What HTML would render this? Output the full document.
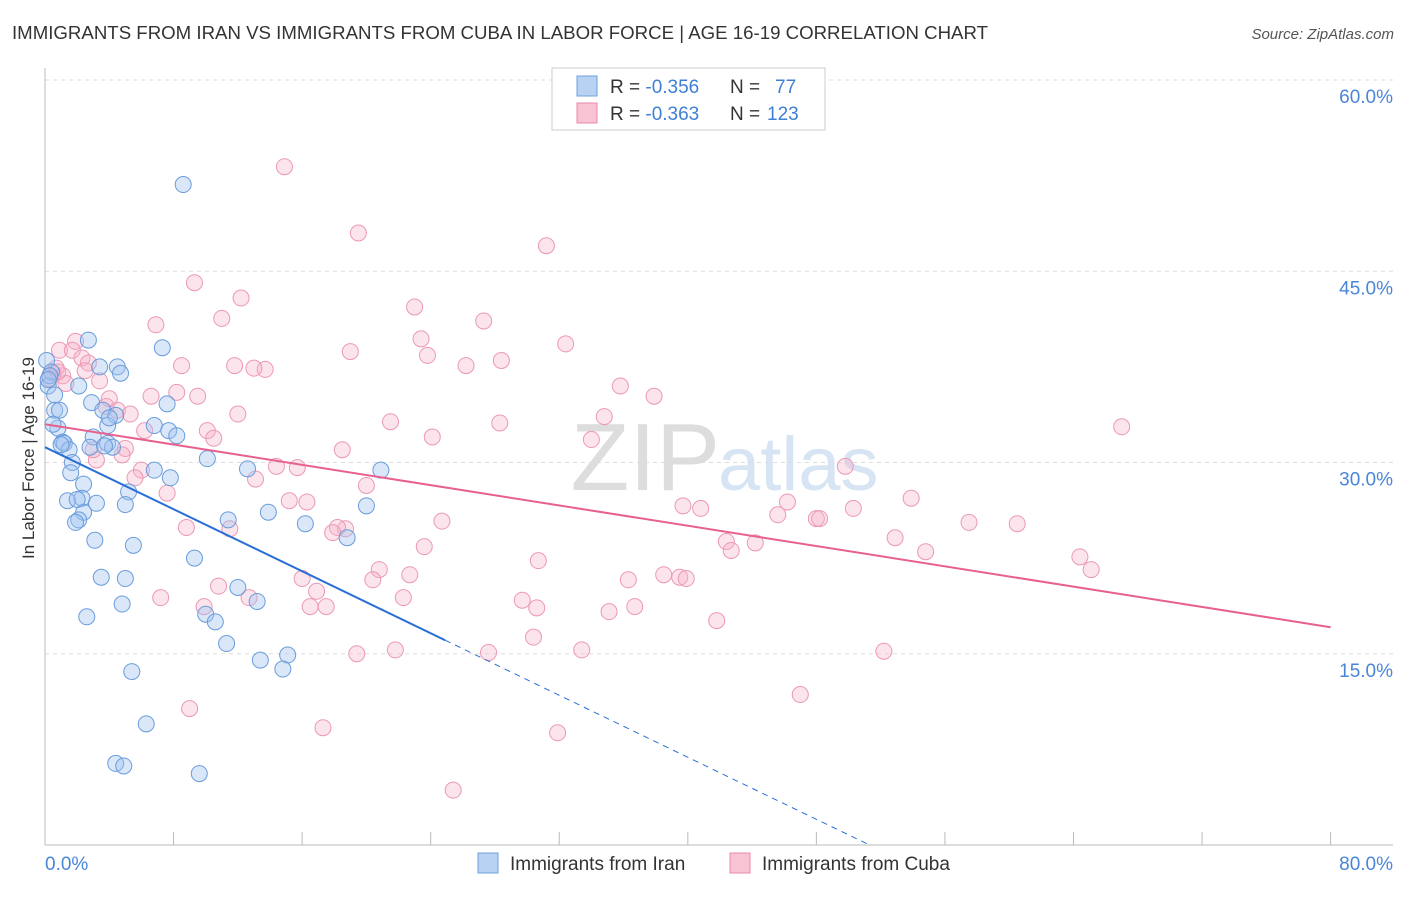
<!DOCTYPE html>
<html><head><meta charset="utf-8"><style>
body{margin:0;background:#fff;font-family:"Liberation Sans",sans-serif}
svg text{font-family:"Liberation Sans",sans-serif}
</style></head><body>
<svg id="chart" width="1406" height="892" xmlns="http://www.w3.org/2000/svg">
<text x="12" y="39" font-size="18.5" fill="#333" textLength="976" lengthAdjust="spacingAndGlyphs">IMMIGRANTS FROM IRAN VS IMMIGRANTS FROM CUBA IN LABOR FORCE | AGE 16-19 CORRELATION CHART</text>
<text x="1394" y="39" font-size="15" fill="#555" text-anchor="end" font-style="italic">Source: ZipAtlas.com</text>
<text x="720" y="490" font-size="96" fill="#ddd" text-anchor="end" font-family="Liberation Serif">ZIP</text>
<text x="718" y="490" font-size="76" fill="#d6e4f3">atlas</text>
<g id="grid"></g><g id="axes"></g><g id="pts"></g><g id="lines"></g>
<text transform="translate(34,458) rotate(-90)" font-size="17" fill="#333" text-anchor="middle">In Labor Force | Age 16-19</text>
<g>
<rect x="552" y="68" width="273" height="62" fill="#fff" stroke="#ccc"/>
<rect x="577" y="76" width="20" height="20" fill="#b7d2f3" stroke="#6fa0dc"/>
<rect x="577" y="103" width="20" height="20" fill="#f8c3d3" stroke="#e889a8"/>
<text x="610" y="93" font-size="19" fill="#333">R = <tspan fill="#3f7fd6">-0.356</tspan><tspan x="730">N =</tspan><tspan x="775" fill="#3f7fd6">77</tspan></text>
<text x="610" y="120" font-size="19" fill="#333">R = <tspan fill="#3f7fd6">-0.363</tspan><tspan x="730">N =</tspan><tspan x="767" fill="#3f7fd6">123</tspan></text>
</g>
<g>
<rect x="478" y="853" width="20" height="20" fill="#b7d2f3" stroke="#6fa0dc"/>
<text x="510" y="870" font-size="19" fill="#333">Immigrants from Iran</text>
<rect x="730" y="853" width="20" height="20" fill="#f8c3d3" stroke="#e889a8"/>
<text x="762" y="870" font-size="19" fill="#333">Immigrants from Cuba</text>
</g>
</svg>
<script>
const yTicks=[15,30,45,60];
const xTickLabels=["0.0%","80.0%"];
const iranX=[8.6,2.7,7.3,3.4,4.5,0.1,0.4,0.2,2.1,0.6,2.9,0.6,0.9,3.6,7.6,4.4,3.9,6.8,0.8,7.7,8.2,3.0,1.1,1.2,3.9,4.2,2.8,1.5,1.7,10.1,12.6,20.9,6.8,7.8,1.6,2.4,5.2,1.4,2.3,3.2,5.0,20.0,13.9,2.4,11.4,2.1,1.9,16.2,18.8,3.1,5.5,9.3,3.5,5.0,12.0,13.2,4.8,10.0,2.6,10.6,11.3,15.1,13.4,14.8,5.4,6.3,4.4,4.9,9.6,0.3,0.5,4.7,1.0,2.0,3.7,0.2,4.0];
const iranY=[51.8,39.6,39.0,37.5,37.5,38.0,37.1,36.0,36.0,35.3,34.7,34.1,34.1,34.1,34.6,33.7,32.9,32.9,32.7,32.5,32.1,32.0,31.6,31.5,31.5,31.2,31.2,31.0,30.0,30.3,29.5,29.4,29.4,28.8,29.2,28.3,27.7,27.0,27.2,26.8,26.7,26.6,26.1,26.1,25.5,25.5,25.3,25.2,24.1,23.9,23.5,22.5,21.0,20.9,20.2,19.1,18.9,18.1,17.9,17.5,15.8,14.9,14.5,13.8,13.6,9.5,6.4,6.2,5.6,36.8,33.0,37.0,31.4,27.1,31.3,36.5,33.5];
const cubaX=[14.9,19.5,31.2,9.3,12.2,23.0,27.3,11.0,6.9,23.4,1.9,0.9,1.7,19.0,23.8,32.4,2.3,2.7,8.5,11.8,13.7,26.2,28.4,0.7,1.1,3.4,35.8,8.2,9.5,6.6,37.9,3.8,4.5,5.3,12.0,34.8,21.5,28.3,67.0,6.2,10.1,10.5,24.1,34.0,18.5,5.0,4.8,3.2,49.8,14.4,15.7,6.0,5.6,13.1,20.0,7.6,15.2,53.9,16.3,46.2,39.7,40.8,50.3,45.6,48.0,48.2,57.5,60.5,24.7,8.8,11.5,18.7,18.2,17.9,52.9,42.4,44.2,42.7,23.6,54.8,64.4,65.1,30.7,20.8,22.7,38.5,39.5,39.9,36.3,20.4,16.0,10.8,16.9,12.7,7.2,22.3,29.7,30.6,16.5,36.7,35.1,17.5,9.9,41.8,30.4,21.8,33.4,52.2,27.6,19.4,47.0,9.0,17.3,31.9,25.4,0.5,1.3,2.5,4.0,0.3,13.0,3.0,0.8];
const cubaY=[53.2,48.0,47.0,44.1,42.9,42.2,41.1,41.3,40.8,39.7,39.5,38.8,38.8,38.7,38.4,39.3,38.2,37.8,37.6,37.6,37.3,37.6,38.0,37.4,36.8,36.4,36.0,35.5,35.2,35.2,35.2,34.4,34.1,33.8,33.8,33.6,33.2,33.1,32.8,32.5,32.5,31.9,32.0,31.8,31.0,31.1,30.6,30.2,29.7,29.7,29.6,29.4,28.8,28.7,28.2,27.6,27.0,27.2,26.9,26.9,26.6,26.4,26.4,25.9,25.6,25.6,25.3,25.2,25.4,24.9,24.8,24.8,24.9,24.5,24.1,23.8,23.7,23.1,23.4,23.0,22.6,21.6,22.3,21.6,21.2,21.2,21.0,20.9,20.8,20.8,20.9,20.3,19.9,19.4,19.4,19.4,19.2,18.6,18.7,18.7,18.3,18.7,18.7,17.6,16.3,15.3,15.3,15.2,15.1,15.0,11.8,10.7,9.2,8.8,4.3,37.0,36.2,37.2,35.0,36.6,37.4,31.0,37.1];
const iranFit=[31.2,-0.608];
const cubaFit=[33.0,-0.199];
const NS="http://www.w3.org/2000/svg";
const X=v=>45+v*16.07, Y=v=>845-v*12.75;
function mk(t,a,p){const e=document.createElementNS(NS,t);for(const k in a)e.setAttribute(k,a[k]);document.getElementById(p).appendChild(e);return e;}
yTicks.forEach(t=>{
 const l=mk('line',{x1:45,x2:1393,y1:Y(t),y2:Y(t),stroke:'#ddd','stroke-dasharray':'4,4'},'grid');
 
 
 const tx=mk('text',{x:1393,y:Y(t)+23,'font-size':19,fill:'#4a86d8','text-anchor':'end'},'grid');
 tx.textContent=t.toFixed(1)+'%';
 
 
});
const ax=mk('line',{x1:45,x2:45,y1:68,y2:845,stroke:'#bbb'},'axes');


const bx=mk('line',{x1:45,x2:1393,y1:845,y2:845,stroke:'#bbb'},'axes');


for(let i=0;i<=80;i+=8){const t=mk('line',{x1:X(i),x2:X(i),y1:832,y2:845,stroke:'#bbb'},'axes');
 
 }
[[0,'start'],[80,'end']].forEach((p,i)=>{const t=mk('text',{x:p[0]?1393:45,y:870,'font-size':19,fill:'#4a86d8','text-anchor':p[1]},'axes');t.textContent=xTickLabels[i];
 
 });
cubaX.forEach((x,i)=>{const c=mk('circle',{cx:X(x),cy:Y(cubaY[i]),r:8,fill:'rgba(246,178,201,0.35)',stroke:'#ec98b5','stroke-width':1},'pts');
 
 });
iranX.forEach((x,i)=>{const c=mk('circle',{cx:X(x),cy:Y(iranY[i]),r:8,fill:'rgba(160,196,240,0.4)',stroke:'#6a9cdc','stroke-width':1},'pts');
 
 });
const f=(p,x)=>p[0]+p[1]*x;
const pl=mk('line',{x1:X(0),y1:Y(f(cubaFit,0)),x2:X(80),y2:Y(f(cubaFit,80)),stroke:'#e8608e','stroke-width':2},'lines');


const bl=mk('line',{x1:X(0),y1:Y(f(iranFit,0)),x2:X(24.9),y2:Y(f(iranFit,24.9)),stroke:'#2a6fd6','stroke-width':2},'lines');


const xe=-iranFit[0]/iranFit[1];
const bd=mk('line',{x1:X(24.9),y1:Y(f(iranFit,24.9)),x2:X(xe),y2:Y(0),stroke:'#2a6fd6','stroke-width':1,'stroke-dasharray':'6,5'},'lines');


</script>
</body></html>
